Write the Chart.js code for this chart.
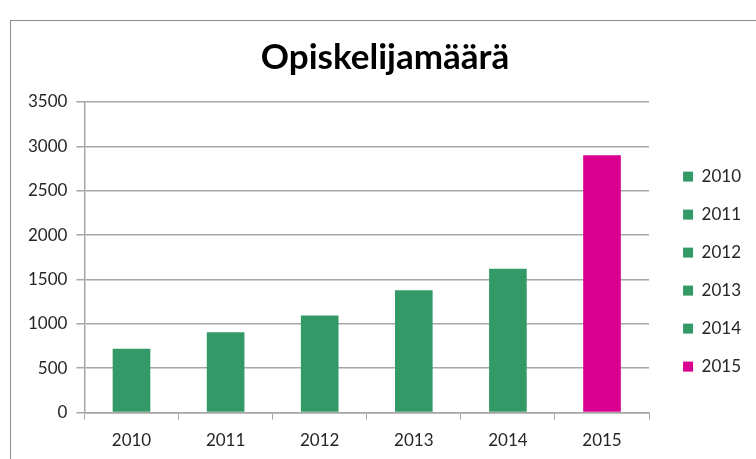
<!DOCTYPE html>
<html lang="en">
<head>
    <meta charset="UTF-8">
    <title>Opiskelijamäärä</title>
    <script src="https://cdn.jsdelivr.net/npm/chart.js"></script>
    <style>
        * { margin: 0; padding: 0; box-sizing: border-box; }
        body {
            width: 756px;
            height: 459px;
            overflow: hidden;
            background: white;
            position: relative;
            font-family: 'Lato', sans-serif;
        }
        .frame {
            position: absolute;
            left: 10px;
            top: 20px;
            width: 800px;
            height: 500px;
            border: 1.5px solid #8c8c8c;
        }
        .chart-box {
            position: absolute;
            left: 11px;
            top: 21px;
            width: 754px;
            height: 449px;
        }
    </style>
</head>
<body>
    <div class="frame"></div>
    <div class="chart-box">
        <canvas id="studentChart"></canvas>
    </div>

    <script>
        // data
        const years = ['2010', '2011', '2012', '2013', '2014', '2015'];
        const students = [720, 905, 1095, 1380, 1620, 2900];
        const barColors = ['#339966', '#339966', '#339966', '#339966', '#339966', '#d9008f'];
        const yTicks = [0, 500, 1000, 1500, 2000, 2500, 3000, 3500];

        const gridGray = '#a6a6a6';
        const textColor = '#262626';

        new Chart(document.getElementById('studentChart'), {
            type: 'bar',
            data: {
                labels: years,
                datasets: [{
                    label: 'Opiskelijamäärä',
                    data: students,
                    backgroundColor: barColors,
                    borderWidth: 0,
                    categoryPercentage: 1,
                    barPercentage: 0.4
                }]
            },
            options: {
                responsive: true,
                maintainAspectRatio: false,
                animation: false,
                layout: { padding: { left: 8, right: 14, bottom: 8 } },
                plugins: {
                    title: {
                        display: true,
                        text: 'Opiskelijamäärä',
                        color: '#000',
                        font: { family: 'Lato', size: 35, weight: 'bold' },
                        padding: { top: 16, bottom: 23 }
                    },
                    legend: {
                        position: 'right',
                        // empty title only pushes the entries down
                        title: { display: true, text: '', font: { size: 1 }, padding: { top: 59, bottom: 0 } },
                        labels: {
                            boxWidth: 10,
                            boxHeight: 10,
                            padding: 21,
                            color: textColor,
                            font: { family: 'Lato', size: 17 },
                            generateLabels: () => years.map((y, i) => ({
                                text: y,
                                fillStyle: barColors[i],
                                strokeStyle: barColors[i],
                                fontColor: textColor,
                                lineWidth: 0,
                                hidden: false,
                                index: i
                            }))
                        }
                    },
                    tooltip: { enabled: false }
                },
                scales: {
                    x: {
                        grid: {
                            display: true,
                            drawOnChartArea: false,
                            offset: true,
                            color: gridGray,
                            tickLength: 7
                        },
                        border: { color: gridGray, width: 1.5 },
                        ticks: {
                            color: textColor,
                            padding: 11,
                            font: { family: 'Lato', size: 17 }
                        }
                    },
                    y: {
                        min: yTicks[0],
                        max: yTicks[yTicks.length - 1],
                        afterBuildTicks: axis => {
                            axis.ticks = yTicks.map(v => ({ value: v }));
                        },
                        grid: {
                            color: gridGray,
                            lineWidth: 1.5,
                            tickLength: 8
                        },
                        border: { color: gridGray, width: 1.5 },
                        ticks: {
                            color: textColor,
                            padding: 9,
                            font: { family: 'Lato', size: 17 },
                            callback: v => String(v)
                        }
                    },
                    // invisible spacer between plot and legend
                    gap: {
                        position: 'right',
                        display: true,
                        grid: { display: false },
                        border: { display: false },
                        ticks: { display: false },
                        afterFit: s => { s.width = 13; }
                    }
                }
            }
        });
    </script>
</body>
</html>
